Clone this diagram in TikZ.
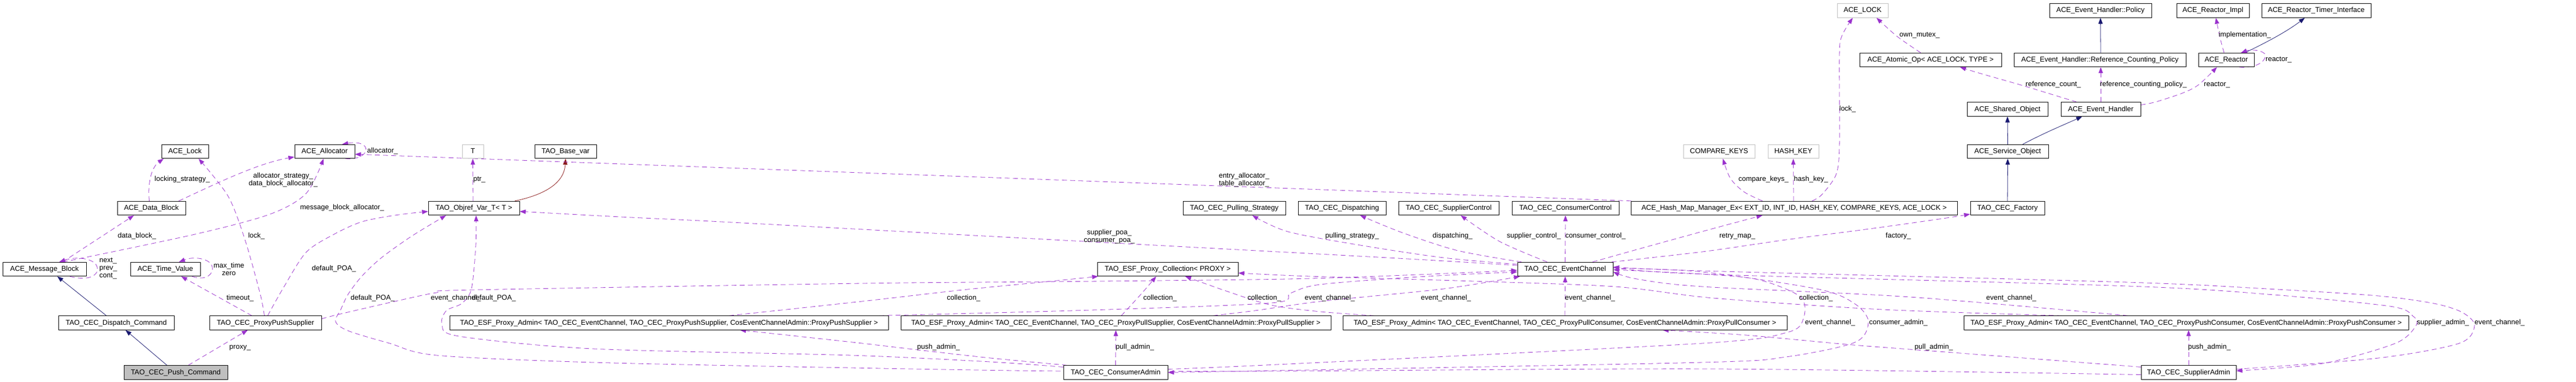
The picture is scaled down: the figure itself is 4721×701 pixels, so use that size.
\documentclass[tikz,border=0pt]{standalone}
\usepackage{fontspec}
\setmainfont{Liberation Sans}
\usetikzlibrary{arrows.meta}
\definecolor{purp}{HTML}{9A32CD}
\definecolor{navy}{HTML}{191970}
\definecolor{dred}{HTML}{8B1A1A}
\definecolor{gbord}{HTML}{BFBFBF}
\definecolor{gfill}{HTML}{BFBFBF}
\pgfdeclarelayer{edges}
\pgfsetlayers{edges,main}
\newcommand\dfont{\fontsize{13}{14}\selectfont}
\tikzset{
  box/.style={draw=black, line width=0.9pt, fill=white, minimum height=25.5pt, inner sep=0pt, text height=9.5pt, text depth=2.5pt, font=\dfont},
  gbox/.style={box, draw=gbord},
  lbl/.style={inner sep=0pt, text height=9.5pt, text depth=2.5pt, font=\dfont},
  lblm/.style={inner sep=0pt, font=\dfont},
  usage/.style={draw=purp, line width=0.8pt, dash pattern=on 9pt off 6pt, -{Triangle[length=11pt,width=8pt,fill=purp]}},
  inh/.style={draw=navy, line width=0.8pt, -{Triangle[length=11pt,width=8pt,fill=navy]}},
  priv/.style={draw=dred, line width=0.8pt, -{Triangle[length=11pt,width=8pt,fill=dred]}},
}
\begin{document}
\begin{tikzpicture}[x=1pt,y=-1pt]
\useasboundingbox (0,0) rectangle (4721,701);
% ---------- nodes ----------
\node[box, minimum width=86pt] (lock) at (339,278) {ACE\_Lock};
\node[box, minimum width=110pt] (alloc) at (595,278) {ACE\_Allocator};
\node[box, minimum width=125pt] (db) at (277.5,382) {ACE\_Data\_Block};
\node[box, minimum width=153pt] (mb) at (81.5,494) {ACE\_Message\_Block};
\node[box, minimum width=128pt] (tv) at (303,494) {ACE\_Time\_Value};
\node[box, minimum width=212pt] (disp) at (213,592.5) {TAO\_CEC\_Dispatch\_Command};
\node[box, minimum width=205pt] (pps) at (486.5,592.5) {TAO\_CEC\_ProxyPushSupplier};
\node[box, fill=gfill, minimum width=190pt] (push) at (322,683.5) {TAO\_CEC\_Push\_Command};
\node[gbox, minimum width=39pt] (T) at (866.5,278) {T};
\node[box, minimum width=113pt] (bv) at (1036.5,278) {TAO\_Base\_var};
\node[box, minimum width=167pt] (objref) at (868.5,382) {TAO\_Objref\_Var\_T< T >};
\node[box, minimum width=804pt] (pa1) at (1226,592.5) {TAO\_ESF\_Proxy\_Admin< TAO\_CEC\_EventChannel, TAO\_CEC\_ProxyPushSupplier, CosEventChannelAdmin::ProxyPushSupplier >};
\node[box, minimum width=188pt] (ps) at (2262,382) {TAO\_CEC\_Pulling\_Strategy};
\node[box, minimum width=258pt] (pc) at (2140,494) {TAO\_ESF\_Proxy\_Collection< PROXY >};
\node[box, minimum width=788pt] (pa2) at (2045,592.5) {TAO\_ESF\_Proxy\_Admin< TAO\_CEC\_EventChannel, TAO\_CEC\_ProxyPullSupplier, CosEventChannelAdmin::ProxyPullSupplier >};
\node[box, minimum width=191pt] (ca) at (2044.5,683.5) {TAO\_CEC\_ConsumerAdmin};
\node[box, minimum width=161pt] (dsp) at (2459.5,382) {TAO\_CEC\_Dispatching};
\node[box, minimum width=184pt] (sc) at (2655,382) {TAO\_CEC\_SupplierControl};
\node[box, minimum width=196pt] (cc) at (2869,382) {TAO\_CEC\_ConsumerControl};
\node[box, minimum width=598pt] (hash) at (3288,382) {ACE\_Hash\_Map\_Manager\_Ex< EXT\_ID, INT\_ID, HASH\_KEY, COMPARE\_KEYS, ACE\_LOCK >};
\node[box, minimum width=175pt] (ec) at (2868.5,494) {TAO\_CEC\_EventChannel};
\node[box, minimum width=814pt] (pa3) at (2868,592.5) {TAO\_ESF\_Proxy\_Admin< TAO\_CEC\_EventChannel, TAO\_CEC\_ProxyPullConsumer, CosEventChannelAdmin::ProxyPullConsumer >};
\node[gbox, minimum width=131pt] (ck) at (3150.5,278) {COMPARE\_KEYS};
\node[gbox, minimum width=93pt] (hk) at (3286.5,278) {HASH\_KEY};
\node[gbox, minimum width=93pt] (acelock) at (3413.5,19.5) {ACE\_LOCK};
\node[box, minimum width=260pt] (atomic) at (3538,110) {ACE\_Atomic\_Op< ACE\_LOCK, TYPE >};
\node[box, minimum width=187pt] (pol) at (3849.5,19.5) {ACE\_Event\_Handler::Policy};
\node[box, minimum width=315pt] (rcp) at (3848.5,110) {ACE\_Event\_Handler::Reference\_Counting\_Policy};
\node[box, minimum width=148pt] (sho) at (3679,200.5) {ACE\_Shared\_Object};
\node[box, minimum width=146pt] (eh) at (3850,200.5) {ACE\_Event\_Handler};
\node[box, minimum width=149pt] (svc) at (3679.5,278) {ACE\_Service\_Object};
\node[box, minimum width=136pt] (fac) at (3679,382) {TAO\_CEC\_Factory};
\node[box, minimum width=815pt] (pa4) at (4006.5,592.5) {TAO\_ESF\_Proxy\_Admin< TAO\_CEC\_EventChannel, TAO\_CEC\_ProxyPushConsumer, CosEventChannelAdmin::ProxyPushConsumer >};
\node[box, minimum width=133pt] (rimpl) at (4055.5,19.5) {ACE\_Reactor\_Impl};
\node[box, minimum width=200pt] (rti) at (4245,19.5) {ACE\_Reactor\_Timer\_Interface};
\node[box, minimum width=102pt] (reac) at (4080,110) {ACE\_Reactor};
\node[box, minimum width=174pt] (sa) at (4011,683.5) {TAO\_CEC\_SupplierAdmin};
% ---------- edges ----------
\begin{pgfonlayer}{edges}
% inheritance
\draw[inh] ([xshift=-16pt]push.north) -- ([xshift=17pt]disp.south);
\draw[inh] ([xshift=-18pt]disp.north) -- ([xshift=23.5pt]mb.south);
\draw[inh] (fac.north) -- (svc.south);
\draw[inh] (svc.north) -- (sho.south);
\draw[inh] ([xshift=27.5pt]svc.north) .. controls (3750,242) and (3785,228) .. ([xshift=-34pt]eh.south);
\draw[inh] ([xshift=1.5pt]rcp.north) -- (pol.south);
\draw[inh] ([xshift=34pt]reac.north) .. controls (4160,75) and (4195,55) .. ([xshift=-21pt]rti.south);
\draw[priv] ([xshift=75pt]objref.north) .. controls (1000,357) and (1034,335) .. (bv.south);
% usage: left part
\draw[usage] ([xshift=23pt]push.north) -- ([xshift=-32.5pt]pps.south);
\draw[usage] ([xshift=46.5pt]mb.south) .. controls (170,518) and (182,500) .. (178,490) .. controls (174,474) and (140,470) .. ([xshift=27pt]mb.north);
\draw[usage] ([xshift=33pt]mb.north) -- ([xshift=-32pt]db.south);
\draw[usage] plot[smooth] coordinates {([xshift=34pt]mb.north) (357,430) (495,393) (561,355) ([xshift=-2pt]alloc.south)};
\draw[usage] ([xshift=-4pt]db.north) .. controls (270,330) and (280,305) .. ([xshift=-39pt]lock.south);
\draw[usage] ([xshift=50pt]db.north) .. controls (390,340) and (470,300) .. ([yshift=-10pt]alloc.west);
\draw[usage] ([xshift=38pt]alloc.south) .. controls (680,295) and (685,255) .. ([xshift=32pt]alloc.north);
\draw[usage] ([xshift=1pt]hash.north west) -- ([yshift=-5pt]alloc.east);
\draw[usage] plot[smooth] coordinates {([xshift=-2pt]pps.north) (477,540) (449,440) (418,360) ([xshift=25pt]lock.south)};
\draw[usage] ([xshift=-25pt]pps.north) -- ([xshift=29pt]tv.south);
\draw[usage] ([xshift=49pt]tv.south) .. controls (380,517) and (392,500) .. (389,490) .. controls (386,474) and (355,470) .. ([xshift=25pt]tv.north);
\draw[usage] plot[smooth] coordinates {([xshift=4pt]pps.north) (520,527) (561,463) (612,430) (663,407) (724,395) ([yshift=-6pt]objref.west)};
\draw[usage] plot[smooth] coordinates {([yshift=7.5pt]pps.east) (612,579) (663,567) (724,553) (800,537) (867,532) (1580,520) (1917,517) (2360,512) (2600,504) ([yshift=-2pt]ec.west)};
\draw[usage] ([xshift=-1.5pt]objref.north) -- (T.south);
% event channel members
\draw[usage] plot[smooth] coordinates {([yshift=7pt]ec.west) (2544,473) (1968,442) (1341,408) (1137,398) ([yshift=-6pt]objref.east)};
\draw[usage] plot[smooth] coordinates {([yshift=9pt]ec.west) (2646,473) (2493,450) (2360,425) ([xshift=33pt]ps.south)};
\draw[usage] plot[smooth] coordinates {([xshift=8pt]ec.north west) (2672,460) (2570,427) ([xshift=33pt]dsp.south)};
\draw[usage] plot[smooth] coordinates {([xshift=-33pt]ec.north) (2748,443) ([xshift=22pt]sc.south)};
\draw[usage] (ec.north) -- (cc.south);
\draw[usage] plot[smooth] coordinates {([xshift=50pt]ec.north) (3003,457) (3130,422) ([xshift=-58pt]hash.south)};
\draw[usage] plot[smooth] coordinates {([xshift=85pt]ec.north) (3120,462) (3273,440) (3426,420) (3554,402) ([yshift=-11pt]fac.west)};
% hash map members
\draw[usage] plot[smooth] coordinates {([xshift=-58pt]hash.north) (3196,352) (3171,327) ([xshift=7pt]ck.south)};
\draw[usage] ([xshift=-1pt]hash.north) -- (hk.south);
\draw[usage] plot[smooth] coordinates {([xshift=33pt]hash.north) (3339,357) (3365,320) (3371,267) (3371,100) (3376,65) ([xshift=-18pt]acelock.south)};
% event handler side
\draw[usage] plot[smooth] coordinates {([xshift=-18pt]atomic.north) (3477,67) ([xshift=25.5pt]acelock.south)};
\draw[usage] plot[smooth] coordinates {([xshift=-44pt]eh.north) (3707,157) (3630,135) ([xshift=54pt]atomic.south)};
\draw[usage] (eh.north) -- ([xshift=1.5pt]rcp.south);
\draw[usage] plot[smooth] coordinates {([yshift=8pt]eh.east) (3951,187) (4002,170) (4030,155) ([xshift=-17pt]reac.south)};
\draw[usage] plot[smooth] coordinates {([xshift=-4pt]reac.north) (4068,67) ([xshift=5.5pt]rimpl.south)};
\draw[usage] ([xshift=24pt]reac.south) .. controls (4150,126) and (4158,100) .. (4147,96) .. controls (4135,90) and (4120,92) .. ([xshift=27pt]reac.north);
% proxy admins
\draw[usage] plot[smooth] coordinates {([xshift=110pt]pa1.north) (1580,553) (1764,532) (1917,517) ([xshift=2pt]pc.south west)};
\draw[usage] plot[smooth] coordinates {([xshift=-17pt]pa1.north east) (2000,569) (2330,556) (2365,538) (2420,522) (2600,508) ([yshift=-5pt]ec.west)};
\draw[usage] plot[smooth] coordinates {([xshift=10pt]pa2.north) (2091,540) ([xshift=-21pt]pc.south)};
\draw[usage] plot[smooth] coordinates {([xshift=178pt]pa2.north) (2300,570) (2420,553) (2646,530) ([xshift=5pt]ec.south west)};
\draw[usage] plot[smooth] coordinates {([xshift=-349pt]pa3.north) (2420,572) (2330,560) (2250,535) ([xshift=32pt]pc.south)};
\draw[usage] (pa3.north) -- (ec.south);
\draw[usage] plot[smooth] coordinates {([xshift=-228pt]pa4.north) (3450,568) (3140,547) (2960,526) (2700,516) (2400,507) ([yshift=-7pt]pc.east)};
\draw[usage] plot[smooth] coordinates {([xshift=-106.5pt]pa4.north) (3500,545) (3120,526) (3000,512) ([yshift=-5pt]ec.east)};
% consumer admin
\draw[usage] plot[smooth] coordinates {([xshift=-89pt]ca.north) (1815,657) (1682,642) (1580,630) (1443,615) ([xshift=130pt]pa1.south)};
\draw[usage] (ca.north) -- (pa2.south);
\draw[usage] plot[smooth] coordinates {([yshift=10pt]ca.west) (1815,664) (1560,652) (1086,640) (841,617) (810,595) (818,570) (846,557) (864,530) (872,450) ([xshift=4pt]objref.south)};
\draw[usage] plot[smooth] coordinates {([yshift=2pt]ec.east) (3120,499) (3334,531) (3400,558) (3424,590) (3400,628) (3273,655) (3120,665) (2340,680) (ca.east)};
\draw[usage] plot[smooth] coordinates {([yshift=6pt]ca.east) (2340,669) (3120,630) (3275,610) (3305,585) (3300,545) (3222,513) (3120,503) ([yshift=-1pt]ec.east)};
% supplier admin
\draw[usage] (sa.north) -- ([xshift=4.5pt]pa4.south);
\draw[usage] plot[smooth] coordinates {([yshift=10pt]sa.west) (3579,647) (3396,633) (3200,615) ([xshift=179pt]pa3.south)};
\draw[usage] plot[smooth] coordinates {([yshift=-4pt]sa.west) (3140,677) (2340,681) (1948,681) (1560,675) (1086,665) (800,652) (714,630) (638,607) (615,590) (625,567) (638,540) (663,507) (699,473) (755,433) ([xshift=33pt]objref.south west)};
\draw[usage] plot[smooth] coordinates {([yshift=6pt]sa.east) (4359,657) (4507,630) (4535,597) (4512,573) (4461,557) (4359,543) (4155,530) (3900,518) (3120,497) ([yshift=4pt]ec.east)};
\draw[usage] plot[smooth] coordinates {([yshift=3pt]ec.east) (3120,503) (3900,525) (4155,540) (4380,562) (4422,580) (4428,597) (4390,630) (4257,667) ([yshift=3pt]sa.east)};
\end{pgfonlayer}
% ---------- labels ----------
\node[lbl] (l1) at (440,637) {proxy\_};
\node[lblm, align=left, anchor=west] (l2) at (182,493) {next\_\\prev\_\\cont\_};
\node[lbl] (l3) at (251,433) {data\_block\_};
\node[lbl] (l4) at (627,381) {message\_block\_allocator\_};
\node[lbl] (l5) at (470,433) {lock\_};
\node[lbl] (l6) at (334,329) {locking\_strategy\_};
\node[lblm, align=center] (l7) at (519,330) {allocator\_strategy\_\\data\_block\_allocator\_};
\node[lbl] (l8) at (701,277) {allocator\_};
\node[lblm, align=center] (l9) at (419.5,494) {max\_time\\zero};
\node[lbl] (l10) at (440,547) {timeout\_};
\node[lbl] (l11) at (612,493) {default\_POA\_};
\node[lbl] (l12) at (683,547) {default\_POA\_};
\node[lbl] (l13) at (835.5,547) {event\_channel\_};
\node[lbl] (l14) at (905,547) {default\_POA\_};
\node[lbl] (l15) at (878.5,329) {ptr\_};
\node[lblm, align=center] (l16) at (2033,434) {supplier\_poa\_\\consumer\_poa\_};
\node[lblm, align=center] (l17) at (2280,330) {entry\_allocator\_\\table\_allocator\_};
\node[lbl] (l18) at (1766,547) {collection\_};
\node[lbl] (l19) at (2126,547) {collection\_};
\node[lbl] (l20) at (2317,547) {collection\_};
\node[lbl] (l21) at (3328,547) {collection\_};
\node[lbl] (l22) at (1720,637) {push\_admin\_};
\node[lbl] (l23) at (4049,637) {push\_admin\_};
\node[lbl] (l24) at (2080,637) {pull\_admin\_};
\node[lbl] (l25) at (3544,637) {pull\_admin\_};
\node[lbl] (l26) at (2437,547) {event\_channel\_};
\node[lbl] (l27) at (2650,547) {event\_channel\_};
\node[lbl] (l28) at (2914,547) {event\_channel\_};
\node[lbl] (l29) at (3686,547) {event\_channel\_};
\node[lbl] (l30) at (3354,592) {event\_channel\_};
\node[lbl] (l31) at (4581,592) {event\_channel\_};
\node[lbl] (l32) at (2478,433) {pulling\_strategy\_};
\node[lbl] (l33) at (2662,433) {dispatching\_};
\node[lbl] (l34) at (2811,433) {supplier\_control\_};
\node[lbl] (l35) at (2924,433) {consumer\_control\_};
\node[lbl] (l36) at (3184,433) {retry\_map\_};
\node[lbl] (l37) at (3479,433) {factory\_};
\node[lbl] (l38) at (3479,592) {consumer\_admin\_};
\node[lbl] (l39) at (4477,592) {supplier\_admin\_};
\node[lbl] (l40) at (3232,329) {compare\_keys\_};
\node[lbl] (l41) at (3319,329) {hash\_key\_};
\node[lbl] (l42) at (3386,200) {lock\_};
\node[lbl] (l43) at (3518,64) {own\_mutex\_};
\node[lbl] (l44) at (3763,155) {reference\_count\_};
\node[lbl] (l45) at (3928,155) {reference\_counting\_policy\_};
\node[lbl] (l46) at (4114,64) {implementation\_};
\node[lbl] (l47) at (4176,109) {reactor\_};
\node[lbl] (l48) at (4063,155) {reactor\_};
\end{tikzpicture}
\end{document}
